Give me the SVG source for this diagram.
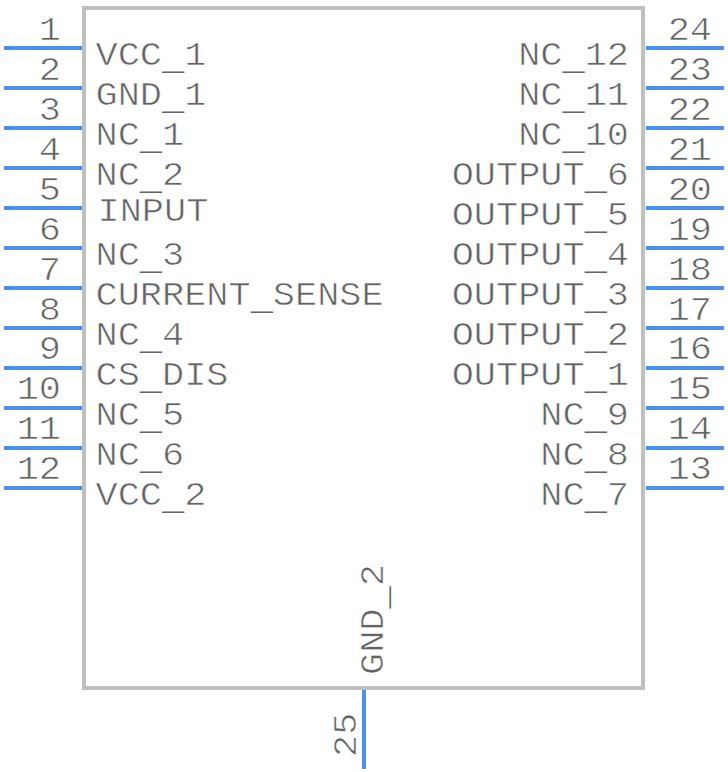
<svg xmlns="http://www.w3.org/2000/svg" width="728" height="772" viewBox="0 0 728 772">
<style>
text{font-family:"Liberation Mono",monospace;font-size:33px;fill:#636363;stroke:#fff;stroke-width:.6}
.e{text-anchor:end}
.u{stroke:none}
line.p{stroke:#4a90f2;stroke-width:4;stroke-linecap:butt}
rect{fill:#fff;stroke:#bfbfbf;stroke-width:4}
</style>
<rect id="body" x="84" y="8" width="559" height="680"/>
<g id="connectors">
<line class="p" x1="4" y1="48" x2="82" y2="48"/><line class="p" x1="4" y1="88" x2="82" y2="88"/><line class="p" x1="4" y1="128" x2="82" y2="128"/><line class="p" x1="4" y1="168" x2="82" y2="168"/><line class="p" x1="4" y1="208" x2="82" y2="208"/><line class="p" x1="4" y1="248" x2="82" y2="248"/><line class="p" x1="4" y1="288" x2="82" y2="288"/><line class="p" x1="4" y1="328" x2="82" y2="328"/><line class="p" x1="4" y1="368" x2="82" y2="368"/><line class="p" x1="4" y1="408" x2="82" y2="408"/><line class="p" x1="4" y1="448" x2="82" y2="448"/><line class="p" x1="4" y1="488" x2="82" y2="488"/>
<line class="p" x1="646" y1="48" x2="724" y2="48"/><line class="p" x1="646" y1="88" x2="724" y2="88"/><line class="p" x1="646" y1="128" x2="724" y2="128"/><line class="p" x1="646" y1="168" x2="724" y2="168"/><line class="p" x1="646" y1="208" x2="724" y2="208"/><line class="p" x1="646" y1="248" x2="724" y2="248"/><line class="p" x1="646" y1="288" x2="724" y2="288"/><line class="p" x1="646" y1="328" x2="724" y2="328"/><line class="p" x1="646" y1="368" x2="724" y2="368"/><line class="p" x1="646" y1="408" x2="724" y2="408"/><line class="p" x1="646" y1="448" x2="724" y2="448"/><line class="p" x1="646" y1="488" x2="724" y2="488"/>
<line class="p" x1="364" y1="690" x2="364" y2="769"/>
</g>
<g id="pin-numbers">
<text class="e" transform="matrix(1.12 0 0 1 61 40)">1</text><text class="e" transform="matrix(1.12 0 0 1 61 80)">2</text><text class="e" transform="matrix(1.12 0 0 1 61 120)">3</text><text class="e" transform="matrix(1.12 0 0 1 61 160)">4</text><text class="e" transform="matrix(1.12 0 0 1 61 200)">5</text><text class="e" transform="matrix(1.12 0 0 1 61 240)">6</text><text class="e" transform="matrix(1.12 0 0 1 61 280)">7</text><text class="e" transform="matrix(1.12 0 0 1 61 320)">8</text><text class="e" transform="matrix(1.12 0 0 1 61 359)">9</text><text class="e" transform="matrix(1.12 0 0 1 61 399)">10</text><text class="e" transform="matrix(1.12 0 0 1 61 439)">11</text><text class="e" transform="matrix(1.12 0 0 1 61 479)">12</text>
<text class="e" transform="matrix(1.12 0 0 1 712 40)">24</text><text class="e" transform="matrix(1.12 0 0 1 712 80)">23</text><text class="e" transform="matrix(1.12 0 0 1 712 120)">22</text><text class="e" transform="matrix(1.12 0 0 1 712 160)">21</text><text class="e" transform="matrix(1.12 0 0 1 712 200)">20</text><text class="e" transform="matrix(1.12 0 0 1 712 240)">19</text><text class="e" transform="matrix(1.12 0 0 1 712 280)">18</text><text class="e" transform="matrix(1.12 0 0 1 712 320)">17</text><text class="e" transform="matrix(1.12 0 0 1 712 359)">16</text><text class="e" transform="matrix(1.12 0 0 1 712 399)">15</text><text class="e" transform="matrix(1.12 0 0 1 712 439)">14</text><text class="e" transform="matrix(1.12 0 0 1 712 479)">13</text>
<text transform="matrix(0 -1.12 1 0 356 757)">25</text>
</g>
<g id="labels-left">
<text transform="matrix(1.12 0 0 1 95.5 65)">VCC<tspan class="u" dy="4">_</tspan><tspan dy="-4">1</tspan></text><text transform="matrix(1.12 0 0 1 95.5 105)">GND<tspan class="u" dy="4">_</tspan><tspan dy="-4">1</tspan></text><text transform="matrix(1.12 0 0 1 95.5 145)">NC<tspan class="u" dy="4">_</tspan><tspan dy="-4">1</tspan></text><text transform="matrix(1.12 0 0 1 95.5 185)">NC<tspan class="u" dy="4">_</tspan><tspan dy="-4">2</tspan></text><text transform="matrix(1.12 0 0 1 97.5 221)">INPUT</text><text transform="matrix(1.12 0 0 1 95.5 265)">NC<tspan class="u" dy="4">_</tspan><tspan dy="-4">3</tspan></text><text transform="matrix(1.12 0 0 1 95.5 305)">CURRENT<tspan class="u" dy="4">_</tspan><tspan dy="-4">SENSE</tspan></text><text transform="matrix(1.12 0 0 1 95.5 345)">NC<tspan class="u" dy="4">_</tspan><tspan dy="-4">4</tspan></text><text transform="matrix(1.12 0 0 1 95.5 385)">CS<tspan class="u" dy="4">_</tspan><tspan dy="-4">DIS</tspan></text><text transform="matrix(1.12 0 0 1 95.5 425)">NC<tspan class="u" dy="4">_</tspan><tspan dy="-4">5</tspan></text><text transform="matrix(1.12 0 0 1 95.5 465)">NC<tspan class="u" dy="4">_</tspan><tspan dy="-4">6</tspan></text><text transform="matrix(1.12 0 0 1 95.5 505)">VCC<tspan class="u" dy="4">_</tspan><tspan dy="-4">2</tspan></text>
</g>
<g id="labels-right">
<text class="e" transform="matrix(1.12 0 0 1 629 65)">NC<tspan class="u" dy="4">_</tspan><tspan dy="-4">12</tspan></text><text class="e" transform="matrix(1.12 0 0 1 629 105)">NC<tspan class="u" dy="4">_</tspan><tspan dy="-4">11</tspan></text><text class="e" transform="matrix(1.12 0 0 1 629 145)">NC<tspan class="u" dy="4">_</tspan><tspan dy="-4">10</tspan></text><text class="e" transform="matrix(1.12 0 0 1 629 185)">OUTPUT<tspan class="u" dy="4">_</tspan><tspan dy="-4">6</tspan></text><text class="e" transform="matrix(1.12 0 0 1 629 225)">OUTPUT<tspan class="u" dy="4">_</tspan><tspan dy="-4">5</tspan></text><text class="e" transform="matrix(1.12 0 0 1 629 265)">OUTPUT<tspan class="u" dy="4">_</tspan><tspan dy="-4">4</tspan></text><text class="e" transform="matrix(1.12 0 0 1 629 305)">OUTPUT<tspan class="u" dy="4">_</tspan><tspan dy="-4">3</tspan></text><text class="e" transform="matrix(1.12 0 0 1 629 345)">OUTPUT<tspan class="u" dy="4">_</tspan><tspan dy="-4">2</tspan></text><text class="e" transform="matrix(1.12 0 0 1 629 385)">OUTPUT<tspan class="u" dy="4">_</tspan><tspan dy="-4">1</tspan></text><text class="e" transform="matrix(1.12 0 0 1 629 425)">NC<tspan class="u" dy="4">_</tspan><tspan dy="-4">9</tspan></text><text class="e" transform="matrix(1.12 0 0 1 629 465)">NC<tspan class="u" dy="4">_</tspan><tspan dy="-4">8</tspan></text><text class="e" transform="matrix(1.12 0 0 1 629 505)">NC<tspan class="u" dy="4">_</tspan><tspan dy="-4">7</tspan></text>
</g>
<text id="label-25" transform="matrix(0 -1.12 1 0 383 675)">GND<tspan class="u" dy="4">_</tspan><tspan dy="-4">2</tspan></text>
</svg>
